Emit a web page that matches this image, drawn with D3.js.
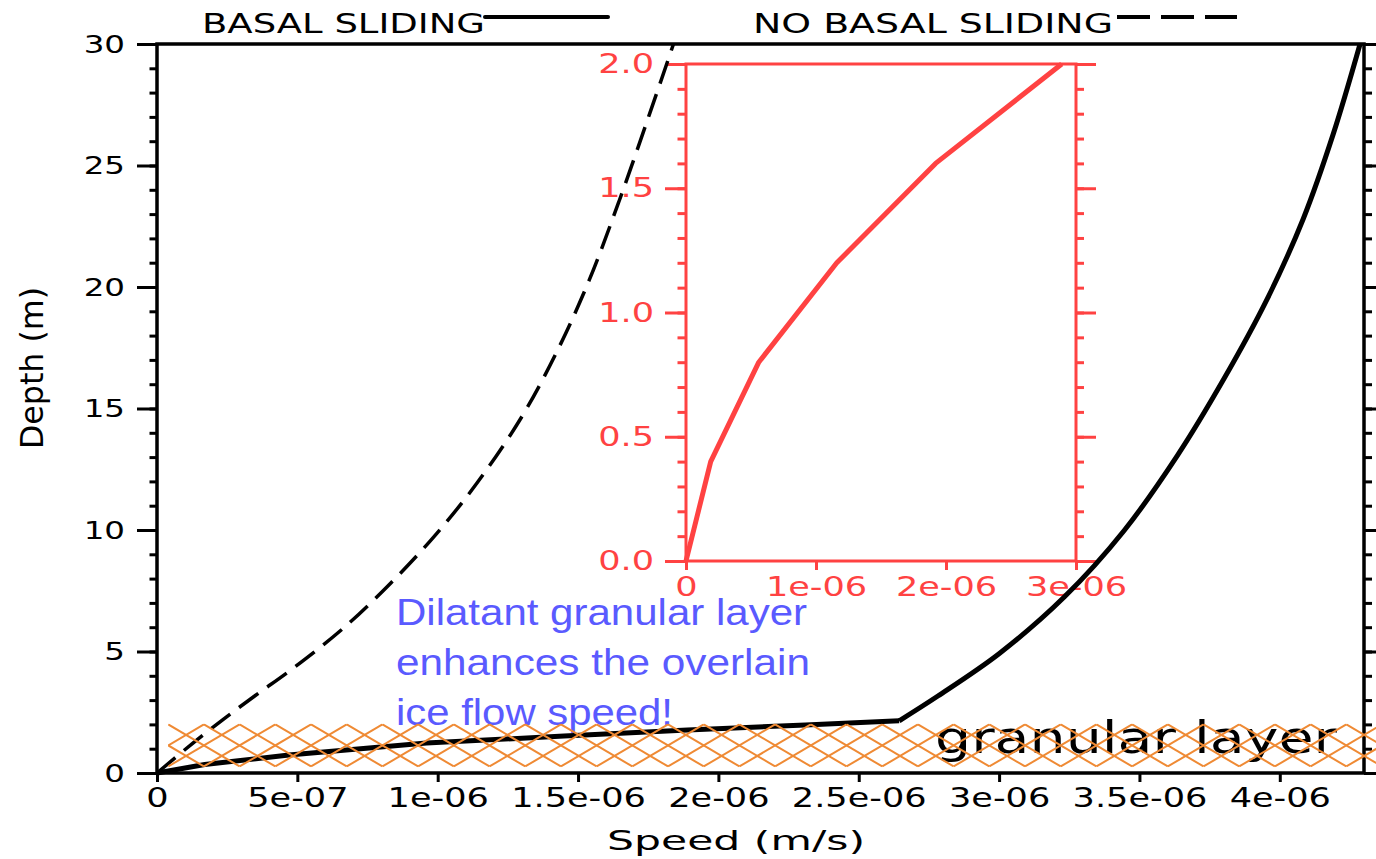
<html>
<head>
<meta charset="utf-8">
<script src="https://d3js.org/d3.v7.min.js"></script>
<style>
  body { margin: 0; background: #fff; }
</style>
</head>
<body>
<script>

// main axes
const xTicks = [0, 5e-7, 1e-6, 1.5e-6, 2e-6, 2.5e-6, 3e-6, 3.5e-6, 4e-6];
const xTickLabels = ["0", "5e-07", "1e-06", "1.5e-06", "2e-06", "2.5e-06", "3e-06", "3.5e-06", "4e-06"];
const yTicks = [0, 5, 10, 15, 20, 25, 30];
const yTickLabels = ["0", "5", "10", "15", "20", "25", "30"];

// basal sliding: inside the granular layer, then the ice above it
const slideLowSpeed = [0, 0.17e-6, 0.47e-6, 0.96e-6, 1.45e-6, 1.89e-6, 2.31e-6, 2.644e-6];
const slideLowDepth = [0, 0.35, 0.74, 1.23, 1.52, 1.77, 1.98, 2.15];
const slideHighSpeed = [2.644e-6, 2.782e-6, 3.001e-6, 3.233e-6, 3.445e-6, 3.635e-6, 3.799e-6, 3.954e-6, 4.083e-6, 4.19e-6, 4.286e-6];
const slideHighDepth = [2.15, 3.17, 4.92, 7.25, 9.97, 13.06, 16.18, 19.48, 22.79, 26.28, 30];

// no basal sliding
const noSlideSpeed = [0, 0.128e-6, 0.235e-6, 0.348e-6, 0.487e-6, 0.667e-6, 0.834e-6, 0.99e-6, 1.138e-6, 1.298e-6, 1.425e-6, 1.539e-6, 1.647e-6, 1.753e-6, 1.84e-6];
const noSlideDepth = [0, 1.23, 2.2, 3.17, 4.33, 5.99, 7.83, 9.77, 11.9, 14.63, 17.35, 20.26, 23.56, 27.06, 30];

// inset: the granular layer
const insetSpeed = [0, 0.19e-6, 0.56e-6, 1.16e-6, 1.92e-6, 2.89e-6];
const insetDepth = [0, 0.4, 0.8, 1.2, 1.6, 2.0];
const insetXTicks = [0, 1e-6, 2e-6, 3e-6];
const insetXTickLabels = ["0", "1e-06", "2e-06", "3e-06"];
const insetYTicks = [0, 0.5, 1, 1.5, 2];
const insetYTickLabels = ["0.0", "0.5", "1.0", "1.5", "2.0"];

// hatched granular layer
const layerSpeed = [0.04e-6, 4.45e-6];
const layerDepth = [0.27, 2.0];

const red = '#ff4242';
const orange = '#ef8a34';
const blue = '#5a5aff';
const ncl = '"DejaVu Sans", sans-serif';

const svg = d3.select('body').append('svg')
	.attr('width', 1376)
	.attr('height', 859)

const x = d3.scaleLinear().domain([0, 4.3e-6]).range([157, 1364]);
const y = d3.scaleLinear().domain([0, 30]).range([773, 44]);
const ix = d3.scaleLinear().domain([0, 3e-6]).range([686, 1076]);
const iy = d3.scaleLinear().domain([0, 2]).range([561, 64]);

// stretch the glyphs sideways, the NCL font is wide
function widen(sel, k) {
	sel.each(function() {
		const w = this.getComputedTextLength();
		d3.select(this).attr('textLength', w * k).attr('lengthAdjust', 'spacingAndGlyphs');
	});
}

function axis(gen, pos, values, size, labels, pad, color, fs) {
	const g = svg.append('g')
		.attr('transform', pos)
		.call(gen.tickValues(values).tickSize(size).tickSizeOuter(0).tickPadding(pad)
			.tickFormat((d, i) => labels ? labels[i] : ''));
	g.select('.domain').remove();
	g.attr('font-family', ncl).attr('font-size', fs);
	g.selectAll('line').attr('stroke', color).attr('stroke-width', 3);
	g.selectAll('text').attr('fill', color);
	if (labels) widen(g.selectAll('text'), 1.3);
	return g;
}

// main axes
axis(d3.axisLeft(y), 'translate(157,0)', d3.range(0, 31, 1), 7.5, null, 0, '#000', 25);
axis(d3.axisLeft(y), 'translate(157,0)', yTicks, 20, yTickLabels, 12, '#000', 25);
axis(d3.axisRight(y), 'translate(1364,0)', d3.range(0, 31, 1), 8, null, 0, '#000', 25);
axis(d3.axisRight(y), 'translate(1364,0)', yTicks, 20, null, 0, '#000', 25);
axis(d3.axisBottom(x), 'translate(0,773)', xTicks, 9, xTickLabels, 6, '#000', 27);

svg.append('rect')
	.attr('x', 157).attr('y', 44)
	.attr('width', 1364 - 157).attr('height', 773 - 44)
	.attr('fill', 'none').attr('stroke', '#000').attr('stroke-width', 3.5);

// inset axes
axis(d3.axisLeft(iy), 'translate(686,0)', d3.range(0, 2.01, 0.1), 8.5, null, 0, red, 27);
axis(d3.axisLeft(iy), 'translate(686,0)', insetYTicks, 21, insetYTickLabels, 11, red, 27);
axis(d3.axisRight(iy), 'translate(1076,0)', d3.range(0, 2.01, 0.1), 8, null, 0, red, 27);
axis(d3.axisRight(iy), 'translate(1076,0)', insetYTicks, 20, null, 0, red, 27);
axis(d3.axisBottom(ix), 'translate(0,561)', insetXTicks, 9, insetXTickLabels, 7, red, 27);

svg.append('rect')
	.attr('x', 686).attr('y', 64)
	.attr('width', 1076 - 686).attr('height', 561 - 64)
	.attr('fill', 'none').attr('stroke', red).attr('stroke-width', 3);

// axis titles
svg.append('text')
	.attr('x', 736).attr('y', 850)
	.attr('text-anchor', 'middle')
	.attr('font-family', ncl).attr('font-size', 27)
	.attr('textLength', 258).attr('lengthAdjust', 'spacingAndGlyphs')
	.text('Speed (m/s)');

svg.append('text')
	.attr('transform', 'translate(43,368) rotate(-90)')
	.attr('text-anchor', 'middle')
	.attr('font-family', ncl).attr('font-size', 32)
	.attr('textLength', 162).attr('lengthAdjust', 'spacingAndGlyphs')
	.text('Depth (m)');

// legend
svg.append('text')
	.attr('x', 202).attr('y', 33)
	.attr('font-family', ncl).attr('font-size', 27)
	.attr('textLength', 283).attr('lengthAdjust', 'spacingAndGlyphs')
	.text('BASAL SLIDING');
svg.append('line')
	.attr('x1', 485).attr('x2', 608).attr('y1', 17).attr('y2', 17)
	.attr('stroke', '#000').attr('stroke-width', 4).attr('stroke-linecap', 'round');

svg.append('text')
	.attr('x', 753).attr('y', 33)
	.attr('font-family', ncl).attr('font-size', 27)
	.attr('textLength', 360).attr('lengthAdjust', 'spacingAndGlyphs')
	.text('NO BASAL SLIDING');
svg.append('line')
	.attr('x1', 1117).attr('x2', 1237).attr('y1', 17).attr('y2', 17)
	.attr('stroke', '#000').attr('stroke-width', 4)
	.attr('stroke-dasharray', '33,11');

// curves
const mainLine = d3.line().x(d => x(d[0])).y(d => y(d[1]));
const insetLine = d3.line().x(d => ix(d[0])).y(d => iy(d[1]));

svg.append('path')
	.datum(d3.zip(noSlideSpeed, noSlideDepth))
	.attr('d', mainLine.curve(d3.curveCatmullRom))
	.attr('fill', 'none').attr('stroke', '#000').attr('stroke-width', 3.5)
	.attr('stroke-dasharray', '24,11');

svg.append('path')
	.datum(d3.zip(slideLowSpeed, slideLowDepth))
	.attr('d', mainLine.curve(d3.curveLinear))
	.attr('fill', 'none').attr('stroke', '#000').attr('stroke-width', 5)
	.attr('stroke-linejoin', 'round');

svg.append('path')
	.datum(d3.zip(slideHighSpeed, slideHighDepth))
	.attr('d', mainLine.curve(d3.curveCatmullRom))
	.attr('fill', 'none').attr('stroke', '#000').attr('stroke-width', 5)
	.attr('stroke-linejoin', 'round');

svg.append('path')
	.datum(d3.zip(insetSpeed, insetDepth))
	.attr('d', insetLine)
	.attr('fill', 'none').attr('stroke', red).attr('stroke-width', 5)
	.attr('stroke-linejoin', 'round');

// annotations
const note = ['Dilatant granular layer', 'enhances the overlain', 'ice flow speed!'];
const noteWidth = [411, 414, 277];
svg.selectAll('.note')
	.data(note)
	.enter()
	.append('text')
	.attr('x', 396)
	.attr('y', (d, i) => 625 + i * 50)
	.attr('font-family', '"Liberation Sans", Arial, sans-serif')
	.attr('font-size', 37)
	.attr('fill', blue)
	.attr('textLength', (d, i) => noteWidth[i])
	.attr('lengthAdjust', 'spacingAndGlyphs')
	.text(d => d);

svg.append('text')
	.attr('x', 935).attr('y', 753)
	.attr('font-family', ncl).attr('font-size', 44)
	.attr('textLength', 402).attr('lengthAdjust', 'spacingAndGlyphs')
	.text('granular layer');

// cross hatch of the granular layer
const hx0 = x(layerSpeed[0]), hx1 = x(layerSpeed[1]);
const hy0 = y(layerDepth[1]), hy1 = y(layerDepth[0]);
const P = 35.7;

svg.append('clipPath').attr('id', 'band')
	.append('rect')
	.attr('x', hx0).attr('y', hy0 - 1)
	.attr('width', hx1 - hx0).attr('height', hy1 - hy0 + 2);

const hatch = svg.append('g').attr('clip-path', 'url(#band)');
const k = d3.range(-3, Math.ceil((hx1 - hx0) / P) + 1);

hatch.selectAll('.down')
	.data(k)
	.enter()
	.append('line')
	.attr('x1', d => hx0 + d * P).attr('y1', hy0)
	.attr('x2', d => hx0 + (d + 2) * P).attr('y2', hy1)
	.attr('stroke', orange).attr('stroke-width', 2);

hatch.selectAll('.up')
	.data(k)
	.enter()
	.append('line')
	.attr('x1', d => hx0 + d * P).attr('y1', hy1)
	.attr('x2', d => hx0 + (d + 2) * P).attr('y2', hy0)
	.attr('stroke', orange).attr('stroke-width', 2);

</script>
</body>
</html>
